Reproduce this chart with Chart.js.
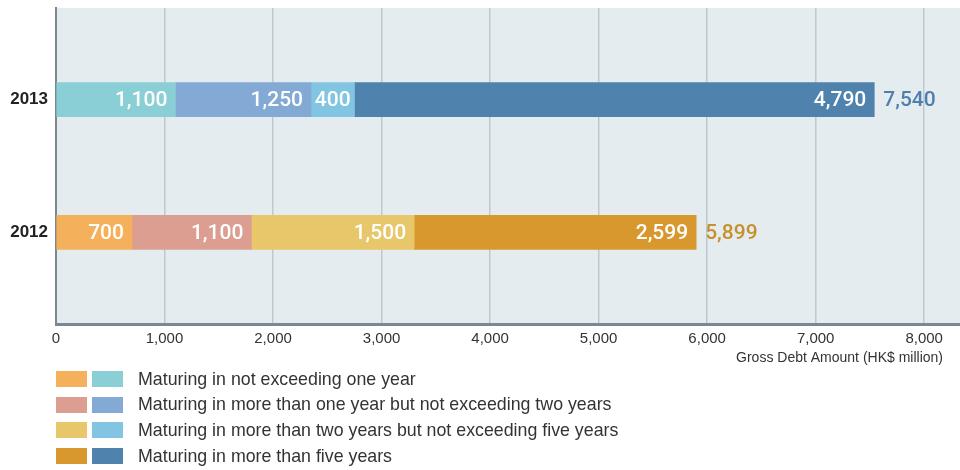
<!DOCTYPE html>
<html>
<head>
<meta charset="utf-8">
<script src="https://cdn.jsdelivr.net/npm/chart.js@4"></script>
<style>
  body { margin: 0; background: #fff; width: 960px; height: 470px; overflow: hidden; font-family: "Liberation Sans", Arial, sans-serif; }
  #wrap { position: relative; width: 960px; height: 370px; }
  #legend { position: absolute; left: 56px; top: 371px; }
  .row { display: flex; align-items: center; height: 16px; margin-bottom: 9.7px; }
  .sw { width: 31px; height: 16px; margin-right: 5px; }
  .row span { margin-left: 10px; font-size: 17.8px; color: #333; white-space: nowrap; }
</style>
</head>
<body>
<div id="wrap"><canvas id="chart"></canvas></div>
<div id="legend"></div>
<script>
// chart data
const years = ["2013", "2012"];
const seriesLabels = [
  "Maturing in not exceeding one year",
  "Maturing in more than one year but not exceeding two years",
  "Maturing in more than two years but not exceeding five years",
  "Maturing in more than five years",
];
const notExceedingOne = [1100, 700];
const oneToTwo = [1250, 1100];
const twoToFive = [400, 1500];
const overFive = [4790, 2599];
const totals = [7540, 5899];
const xTicks = [0, 1000, 2000, 3000, 4000, 5000, 6000, 7000, 8000];
const xMax = 8330;

// colours: [2013, 2012] for each series
const seriesColors = [
  ["#8bcfd6", "#f5b05b"],
  ["#83aad5", "#dc9e91"],
  ["#81c5e2", "#e8c76b"],
  ["#4f83ae", "#d9982e"],
];
const totalColors = ["#4f7fac", "#c8902c"];

const fmt = (v) => v.toLocaleString("en-US");

// bars use the category index as y on a linear scale
const toPoints = (values) => values.map((v, i) => ({ x: v, y: i }));
const seriesValues = [notExceedingOne, oneToTwo, twoToFive, overFive];

const datasets = seriesValues.map((vals, s) => ({
  label: seriesLabels[s],
  data: toPoints(vals),
  backgroundColor: seriesColors[s],
  barThickness: 34,
  borderWidth: 0,
}));

// background of the plot area
const plotBg = {
  id: "plotBg",
  beforeDraw(chart) {
    const { ctx, chartArea: a } = chart;
    ctx.save();
    ctx.fillStyle = "#e4ecf0";
    ctx.fillRect(a.left, a.top, a.right - a.left, a.bottom - a.top);
    ctx.restore();
  },
};

// white values inside the segments, totals after the bars, axis title
const valueLabels = {
  id: "valueLabels",
  afterDatasetsDraw(chart) {
    const ctx = chart.ctx;
    ctx.save();
    ctx.font = "500 21px Roboto";
    ctx.textBaseline = "middle";
    ctx.textAlign = "right";
    chart.data.datasets.forEach((ds, di) => {
      chart.getDatasetMeta(di).data.forEach((bar, i) => {
        const txt = fmt(ds.data[i].x);
        const w = ctx.measureText(txt).width;
        const left = Math.min(bar.x, bar.base);
        const right = Math.max(bar.x, bar.base);
        let x = right - 8;
        if (x - w < left + 2) x = (left + right) / 2 + w / 2; // narrow segment
        ctx.fillStyle = "#fff";
        ctx.fillText(txt, x, bar.y + 1);
      });
    });

    const lastMeta = chart.getDatasetMeta(chart.data.datasets.length - 1);
    ctx.textAlign = "left";
    lastMeta.data.forEach((bar, i) => {
      ctx.fillStyle = totalColors[i];
      ctx.fillText(fmt(totals[i]), bar.x + 9, bar.y + 1);
    });

    ctx.font = "14px 'Liberation Sans'";
    ctx.fillStyle = "#333";
    ctx.textAlign = "right";
    ctx.fillText("Gross Debt Amount (HK$ million)", 943, 358);
    ctx.restore();
  },
};

new Chart(document.getElementById("chart"), {
  type: "bar",
  data: { datasets },
  options: {
    indexAxis: "y",
    responsive: true,
    maintainAspectRatio: false,
    animation: false,
    layout: { padding: { top: 8, right: 0, left: 0, bottom: 0 } },
    plugins: {
      legend: { display: false },
      tooltip: { enabled: false },
    },
    scales: {
      x: {
        type: "linear",
        stacked: true,
        min: 0,
        max: xMax,
        grid: { color: "#bfc8cf", lineWidth: 1.5, drawTicks: false },
        border: { color: "#7b8890", width: 3 },
        afterBuildTicks: (scale) => { scale.ticks = xTicks.map((v) => ({ value: v })); },
        ticks: {
          padding: 6,
          color: "#333",
          font: { family: "Liberation Sans", size: 15 },
          callback: (v) => fmt(v),
        },
        afterFit: (scale) => {
          scale.height = 46;
          scale.paddingLeft = 0;
          scale.paddingRight = 0;
        },
      },
      y: {
        type: "linear",
        stacked: true,
        reverse: true,
        offset: false,
        min: -0.69,
        max: 1.69,
        grid: { display: false, drawTicks: false },
        border: { color: "#7b8890", width: 2 },
        afterBuildTicks: (scale) => { scale.ticks = years.map((_, i) => ({ value: i })); },
        ticks: {
          padding: 8,
          color: "#222",
          font: { family: "Liberation Sans", size: 17, weight: "bold" },
          callback: (v) => years[v],
        },
        afterFit: (scale) => {
          scale.width = 56;
          scale.paddingTop = 0;
          scale.paddingBottom = 0;
        },
      },
    },
  },
  plugins: [plotBg, valueLabels],
});

// legend: one swatch per year for each series
const legend = document.getElementById("legend");
seriesLabels.forEach((label, s) => {
  const row = document.createElement("div");
  row.className = "row";
  [1, 0].forEach((yi) => {
    const sw = document.createElement("div");
    sw.className = "sw";
    sw.style.background = seriesColors[s][yi];
    row.appendChild(sw);
  });
  const span = document.createElement("span");
  span.textContent = label;
  row.appendChild(span);
  legend.appendChild(row);
});
</script>
</body>
</html>
